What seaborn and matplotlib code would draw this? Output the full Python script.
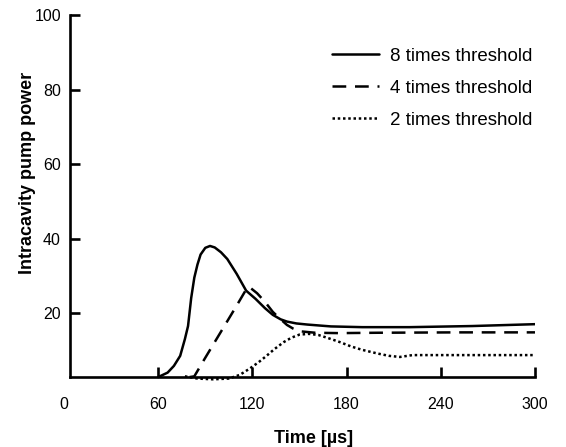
import numpy as np
import pandas as pd
import matplotlib
matplotlib.use("Agg")
import matplotlib.pyplot as plt
import seaborn as sns

# values
x_8 = [60, 66, 70, 74, 77, 79, 81, 83, 85, 87, 90, 93, 96, 100, 104, 110, 116, 122, 128, 133,
       138, 142, 148, 155, 170, 190, 220, 260, 300]
y_8 = [2.8, 4, 5.8, 8.5, 13, 16.5, 24, 29.5, 33, 35.7, 37.5, 38, 37.6, 36.3, 34.5, 30.5, 26, 23.8, 21.3,
       19.5, 18.3, 17.7, 17.2, 16.9, 16.4, 16.2, 16.2, 16.5, 17]

x_4 = [80, 83, 90, 100, 110, 116, 118, 123, 128, 133, 138, 142, 146, 150, 160, 175, 200, 250, 300]
y_4 = [2.8, 3, 8, 15, 22, 26.3, 27, 25.3, 23, 20.3, 18.3, 16.8, 15.8, 15.1, 14.7, 14.6, 14.7, 14.8, 14.8]

x_2 = [77, 85, 95, 105, 112, 118, 124, 129, 134, 140, 145, 150, 156, 162, 168, 175, 183, 190, 200, 207,
       214, 222, 240, 270, 300]
y_2 = [3, 2.4, 2.2, 2.4, 3.4, 5, 6.8, 8.5, 10.3, 12.2, 13.4, 14.2, 14.4, 14.1, 13.3, 12.3, 11, 10.1, 9.1,
       8.5, 8.2, 8.7, 8.7, 8.7, 8.7]

labels = ["8 times threshold", "4 times threshold", "2 times threshold"]

df = pd.concat([
    pd.DataFrame({"t": x_8, "p": y_8, "series": labels[0]}),
    pd.DataFrame({"t": x_4, "p": y_4, "series": labels[1]}),
    pd.DataFrame({"t": x_2, "p": y_2, "series": labels[2]}),
])

sns.set_style("ticks", {"text.color": "black", "axes.labelcolor": "black",
                        "xtick.color": "black", "ytick.color": "black",
                        "axes.edgecolor": "black"})
plt.rcParams['font.family'] = ['Liberation Sans', 'DejaVu Sans']

fig = plt.figure(figsize=(5.66, 4.47), dpi=100)
ax = fig.add_axes([0.1131, 0.1331, 0.8321, 0.8333])

sns.lineplot(data=df, x="t", y="p", style="series", hue="series",
             palette=["black"] * 3,
             dashes={labels[0]: "", labels[1]: (5.5, 3.5), labels[2]: (1, 1.1)},
             linewidth=1.8, sort=False, ax=ax)

ax.set_xlim(0, 300)
ax.set_ylim(0, 100)
ax.set_xticks([0, 60, 120, 180, 240, 300])
ax.set_yticks([20, 40, 60, 80, 100])

for side in ["top", "right"]:
    ax.spines[side].set_visible(False)
ax.spines["left"].set_position(("data", 3.8))
ax.spines["bottom"].set_position(("data", 2.8))
ax.spines["left"].set_bounds(2.8, 100)
ax.spines["bottom"].set_bounds(3.8, 300)
for side in ["left", "bottom"]:
    ax.spines[side].set_linewidth(1.9)

ax.tick_params(axis="x", direction="in", length=7.5, width=1.9, pad=14, labelsize=11.5)
ax.tick_params(axis="y", direction="in", length=7.5, width=1.9, pad=6.5, labelsize=11.5)
ax.xaxis.get_major_ticks()[0].tick1line.set_markersize(0)

ax.set_xlabel("Time [µs]", fontsize=13, fontweight="bold")
ax.xaxis.set_label_coords(0.53, -0.115)
ax.set_ylabel("Intracavity pump power", fontsize=13, fontweight="bold")
ax.yaxis.set_label_coords(-0.06, 0.576)

ax.legend(loc="upper right", bbox_to_anchor=(1.03, 0.958), frameon=False, fontsize=13.5,
          handlelength=2.5, labelspacing=0.8, handletextpad=0.6)

fig.savefig("out.png", dpi=100)
